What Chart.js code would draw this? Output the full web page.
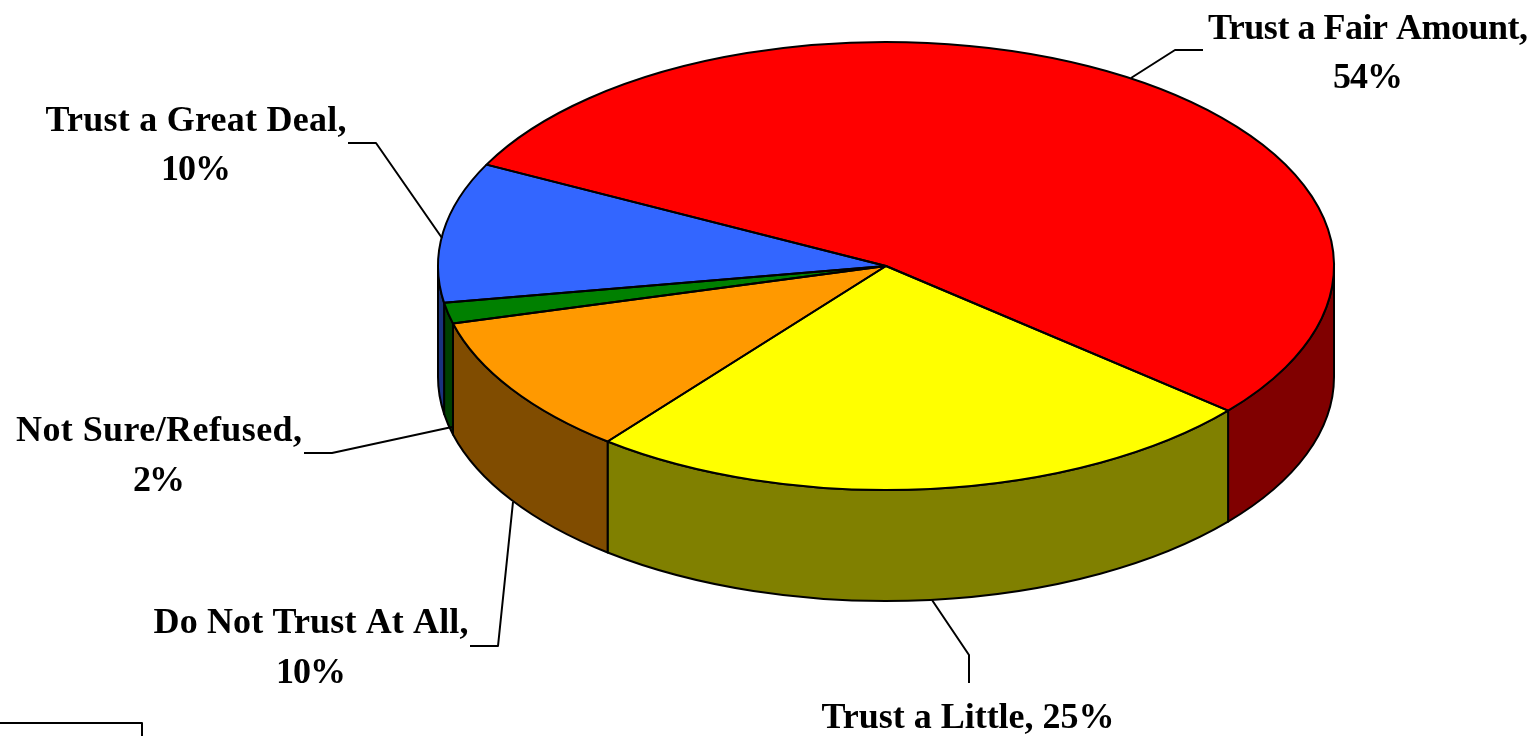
<!DOCTYPE html>
<html>
<head>
<meta charset="utf-8">
<title>Trust</title>
<style>
html,body{margin:0;padding:0;background:#fff;overflow:hidden}
#wrap{position:absolute;left:0;top:0;width:1538px;height:736px}
</style>
<script src="https://cdn.jsdelivr.net/npm/chart.js@4/dist/chart.umd.min.js"></script>
</head>
<body>
<div id="wrap"><canvas id="c" width="1538" height="736"></canvas></div>
<script>
const categories = ["Trust a Fair Amount", "Trust a Little", "Do Not Trust At All", "Not Sure/Refused", "Trust a Great Deal"];
const values = [53.7, 24.5, 10.2, 1.5, 10.1];
const topColors = ["#FF0000", "#FFFF00", "#FF9900", "#008000", "#3366FF"];
const wallColors = ["#800000", "#808000", "#804C00", "#004000", "#1A337F"];

const labelLines = [
  { lines: ["Trust a Fair Amount,", "54%"], x: 1368, y: [39, 88], w: [320, 70] },
  { lines: ["Trust a Little, 25%"], x: 968, y: [728], w: [293] },
  { lines: ["Do Not Trust At All,", "10%"], x: 311, y: [633, 683], w: [315, 70] },
  { lines: ["Not Sure/Refused,", "2%"], x: 159, y: [441, 491], w: [286, 52] },
  { lines: ["Trust a Great Deal,", "10%"], x: 196, y: [131, 180], w: [301, 70] }
];
const leaders = [
  [[1131,78],[1175,50],[1203,50]],
  [[932,600],[969,655],[969,683]],
  [[513,502],[498,646],[470,646]],
  [[452,427],[332,453],[304,453]],
  [[442,238],[376,143],[348,143]]
];
const frameLine = [[0,723],[142,723],[142,736]];

const squash = 0.5;
const depth = 111;
const lineW = 2;

const pie3d = {
  id: 'pie3d',
  beforeDatasetsDraw(chart) {
    const ctx = chart.ctx;
    const arcs = chart.getDatasetMeta(0).data;
    ctx.save();
    ctx.lineWidth = lineW;
    ctx.strokeStyle = '#000';
    ctx.lineJoin = 'round';
    arcs.forEach((a, i) => {
      const rx = a.outerRadius, ry = rx * squash;
      const s = Math.max(a.startAngle, 0), e = Math.min(a.endAngle, Math.PI);
      if (e <= s) return;
      ctx.beginPath();
      ctx.ellipse(a.x, a.y, rx, ry, 0, s, e);
      ctx.ellipse(a.x, a.y + depth, rx, ry, 0, e, s, true);
      ctx.closePath();
      ctx.fillStyle = wallColors[i];
      ctx.fill();
      ctx.stroke();
    });
    ctx.restore();
    const a0 = arcs[0];
    ctx.save();
    ctx.translate(a0.x, a0.y);
    ctx.scale(1, squash);
    ctx.translate(-a0.x, -a0.y);
  },
  afterDatasetsDraw(chart) {
    const ctx = chart.ctx;
    ctx.restore();
    const arcs = chart.getDatasetMeta(0).data;
    ctx.save();
    ctx.lineWidth = lineW;
    ctx.strokeStyle = '#000';
    ctx.lineJoin = 'round';
    arcs.forEach(a => {
      const rx = a.outerRadius, ry = rx * squash;
      ctx.beginPath();
      ctx.moveTo(a.x, a.y);
      ctx.ellipse(a.x, a.y, rx, ry, 0, a.startAngle, a.endAngle);
      ctx.closePath();
      ctx.stroke();
    });
    [...leaders, frameLine].forEach(p => {
      ctx.beginPath();
      p.forEach((q, k) => k ? ctx.lineTo(q[0], q[1]) : ctx.moveTo(q[0], q[1]));
      ctx.stroke();
    });
    ctx.fillStyle = '#000';
    ctx.textAlign = 'center';
    ctx.textBaseline = 'alphabetic';
    ctx.font = 'bold 36px "Liberation Serif"';
    labelLines.forEach(l => l.lines.forEach((t, k) => {
      const natural = ctx.measureText(t).width;
      const extra = (l.w[k] - natural) / Math.max(t.length - 1, 1);
      ctx.letterSpacing = extra.toFixed(3) + 'px';
      ctx.fillText(t, l.x + extra / 2, l.y[k]);
      ctx.letterSpacing = '0px';
    }));
    ctx.restore();
  }
};

new Chart(document.getElementById('c'), {
  type: 'pie',
  data: {
    labels: categories,
    datasets: [{ data: values, backgroundColor: topColors, borderWidth: 0 }]
  },
  options: {
    responsive: false,
    animation: false,
    rotation: -63.1,
    radius: 448,
    layout: { padding: { left: 234, bottom: 204 } },
    plugins: { legend: { display: false }, tooltip: { enabled: false }, title: { display: false } }
  },
  plugins: [pie3d]
});
</script>
</body>
</html>
